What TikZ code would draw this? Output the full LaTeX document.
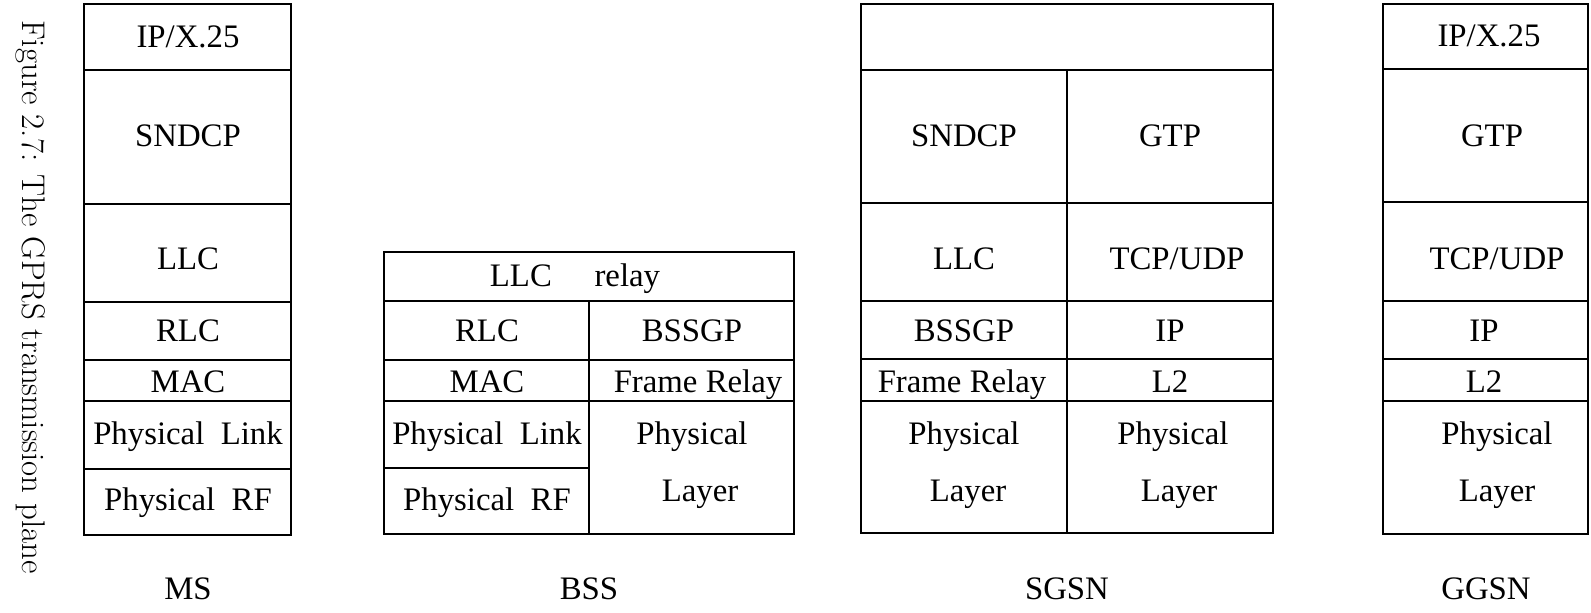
\documentclass[tikz,border=0pt]{standalone}
\usepackage{fontspec}
\setmainfont{Liberation Serif}
\begin{document}
\begin{tikzpicture}[x=0.5pt,y=-0.5pt,line width=0.8pt,
  lbl/.style={font=\fontsize{16.4}{19}\selectfont,inner sep=0pt,text height=0.66em,text depth=0pt,yshift=-2pt},
  captext/.style={font=\fontfamily{lmr}\selectfont\fontsize{16.4}{19}\selectfont,rotate=-90,inner sep=0pt}]
\useasboundingbox (0,0) rectangle (1591,613);

% ---- MS stack
\draw (84,4) rectangle (291,535);
\foreach \y in {70,204,302,360,401,469} \draw (84,\y) -- (291,\y);
\node[lbl] (ms-ip)   at (188,37)  {IP/X.25};
\node[lbl] (ms-snd)  at (188,136) {SNDCP};
\node[lbl] (ms-llc)  at (188,259) {LLC};
\node[lbl] (ms-rlc)  at (188,331) {RLC};
\node[lbl] (ms-mac)  at (188,382) {MAC};
\node[lbl] (ms-pl)   at (188,434) {Physical\hspace{0.5em}Link};
\node[lbl] (ms-rf)   at (188,500) {Physical\hspace{0.5em}RF};

% ---- BSS stack
\draw (384,252) rectangle (794,534);
\draw (384,301) -- (794,301);
\draw (589,301) -- (589,534);
\foreach \y in {360,401} \draw (384,\y) -- (794,\y);
\draw (384,468) -- (589,468);
\node[lbl] (bss-llc) at (575,276) {LLC\hspace{1.3em}relay};
\node[lbl] (bss-rlc) at (487,331) {RLC};
\node[lbl] (bss-mac) at (487,382) {MAC};
\node[lbl] (bss-pl)  at (487,434) {Physical\hspace{0.5em}Link};
\node[lbl] (bss-rf)  at (487,500) {Physical\hspace{0.5em}RF};
\node[lbl] (bss-bss) at (692,331) {BSSGP};
\node[lbl] (bss-fr)  at (698,382) {Frame Relay};
\node[lbl] (bss-ph1) at (692,434) {Physical};
\node[lbl] (bss-ph2) at (700,491) {Layer};

% ---- SGSN stack
\draw (861,4) rectangle (1273,533);
\draw (861,70) -- (1273,70);
\draw (1067,70) -- (1067,533);
\foreach \y in {203,301,359,401} \draw (861,\y) -- (1273,\y);
\node[lbl] (sg-snd)  at (964,136)  {SNDCP};
\node[lbl] (sg-llc)  at (964,259)  {LLC};
\node[lbl] (sg-bss)  at (964,331)  {BSSGP};
\node[lbl] (sg-fr)   at (962,382)  {Frame Relay};
\node[lbl] (sg-ph1)  at (964,434)  {Physical};
\node[lbl] (sg-ph2)  at (968,491)  {Layer};
\node[lbl] (sg-gtp)  at (1170,136) {GTP};
\node[lbl] (sg-tcp)  at (1177,259) {TCP/UDP};
\node[lbl] (sg-ip)   at (1170,331) {IP};
\node[lbl] (sg-l2)   at (1170,382) {L2};
\node[lbl] (sg-ph3)  at (1173,434) {Physical};
\node[lbl] (sg-ph4)  at (1179,491) {Layer};

% ---- GGSN stack
\draw (1383,4) rectangle (1588,534);
\foreach \y in {69,202,301,359,401} \draw (1383,\y) -- (1588,\y);
\node[lbl] (gg-ip)   at (1489,36)  {IP/X.25};
\node[lbl] (gg-gtp)  at (1492,136) {GTP};
\node[lbl] (gg-tcp)  at (1497,259) {TCP/UDP};
\node[lbl] (gg-ipl)  at (1484,331) {IP};
\node[lbl] (gg-l2)   at (1484,382) {L2};
\node[lbl] (gg-ph1)  at (1497,434) {Physical};
\node[lbl] (gg-ph2)  at (1497,491) {Layer};

% ---- entity names
\node[lbl] (n-ms)   at (188,589)  {MS};
\node[lbl] (n-bss)  at (589,589)  {BSS};
\node[lbl] (n-sgsn) at (1067,589) {SGSN};
\node[lbl] (n-ggsn) at (1486,589) {GGSN};

% ---- caption
\node[captext] (caption) at (31,297) {Figure 2.7: The GPRS transmission plane};
\end{tikzpicture}
\end{document}
